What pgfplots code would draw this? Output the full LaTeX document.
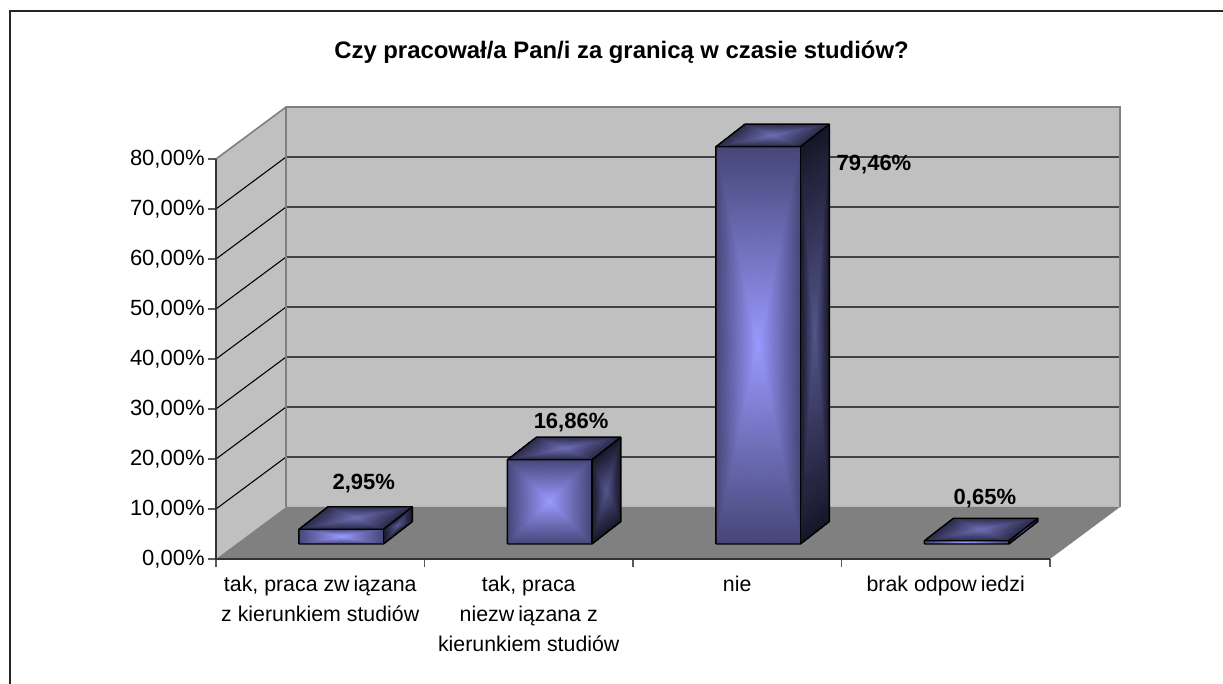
\documentclass[border=0pt]{standalone}
\usepackage{fontspec}
\setmainfont{Liberation Sans}
\usepackage{pgfplots}
\pgfplotsset{compat=1.18}
\definecolor{wall}{RGB}{192,192,192}
\definecolor{flr}{RGB}{128,128,128}
\definecolor{fc}{RGB}{153,153,255}
\definecolor{fe}{RGB}{70,70,120}
\definecolor{tc}{RGB}{108,108,180}
\definecolor{te}{RGB}{42,42,72}
\definecolor{sc}{RGB}{84,84,140}
\definecolor{se}{RGB}{22,22,40}
\newcommand{\barbox}[3]{% x0, x1, value: drawn on the floor plane 3 units above the front edge
  \pgfmathsetmacro{\xa}{#1}\pgfmathsetmacro{\xb}{#2}
  \pgfmathsetmacro{\ya}{3}\pgfmathsetmacro{\yb}{3+#3}
  \pgfmathsetmacro{\xc}{\xa+0.139}\pgfmathsetmacro{\xd}{\xb+0.139}
  \pgfmathsetmacro{\yc}{\ya+4.5}\pgfmathsetmacro{\yd}{\yb+4.5}
  \pgfmathsetmacro{\xm}{(\xa+\xb)/2}\pgfmathsetmacro{\ym}{(\ya+\yb)/2}
  \pgfmathsetmacro{\xt}{(\xa+\xd)/2}\pgfmathsetmacro{\yt}{(\yb+\yd)/2}
  \pgfmathsetmacro{\xs}{(\xb+\xd)/2}\pgfmathsetmacro{\ys}{(\ya+\yd)/2}
  \edef\temp{\noexpand\addplot[patch,shader=interp,mesh/color input=explicit] coordinates {
    (\xa,\ya)[color=fe] (\xb,\ya)[color=fe] (\xm,\ym)[color=fc]
    (\xb,\ya)[color=fe] (\xb,\yb)[color=fe] (\xm,\ym)[color=fc]
    (\xb,\yb)[color=fe] (\xa,\yb)[color=fe] (\xm,\ym)[color=fc]
    (\xa,\yb)[color=fe] (\xa,\ya)[color=fe] (\xm,\ym)[color=fc]
    (\xa,\yb)[color=te] (\xb,\yb)[color=te] (\xt,\yt)[color=tc]
    (\xb,\yb)[color=te] (\xd,\yd)[color=te] (\xt,\yt)[color=tc]
    (\xd,\yd)[color=te] (\xc,\yd)[color=te] (\xt,\yt)[color=tc]
    (\xc,\yd)[color=te] (\xa,\yb)[color=te] (\xt,\yt)[color=tc]
    (\xb,\ya)[color=se] (\xd,\yc)[color=se] (\xs,\ys)[color=sc]
    (\xd,\yc)[color=se] (\xd,\yd)[color=se] (\xs,\ys)[color=sc]
    (\xd,\yd)[color=se] (\xb,\yb)[color=se] (\xs,\ys)[color=sc]
    (\xb,\yb)[color=se] (\xb,\ya)[color=se] (\xs,\ys)[color=sc]
  };
  \noexpand\addplot[black,line width=1.1pt,line join=round] coordinates {
    (\xa,\ya) (\xb,\ya) (\xd,\yc) (\xd,\yd) (\xc,\yd) (\xa,\yb) (\xa,\ya)};
  \noexpand\addplot[black,line width=1.1pt,line join=round] coordinates {
    (\xa,\yb) (\xb,\yb) (\xd,\yd)};
  \noexpand\addplot[black,line width=1.1pt] coordinates {(\xb,\yb) (\xb,\ya)};}
  \temp
}
\begin{document}
\begin{tikzpicture}[x=0.75pt,y=0.75pt]
\useasboundingbox (0,0) rectangle (1223,684);
\draw[black!85,line width=1.1pt] (10,0) -- (10,673) -- (1223,673);
\node[font=\fontsize{17.9pt}{21pt}\selectfont\bfseries,anchor=center] at (621.5,632) {Czy pracował/a Pan/i za granicą w czasie studiów?};
\begin{axis}[
  at={(162pt,93.75pt)},anchor=south west,
  scale only axis,width=678pt,height=339pt,
  xmin=0,xmax=4.336,ymin=0,ymax=90.4,
  clip=false,
  axis line style={draw=none},
  axis x line*=bottom,axis y line*=left,
  xtick={0,1,2,3,4},xticklabels={},
  extra x ticks={0.5,1.5,2.5,3.5},
  extra x tick labels={{tak, praca zw\kern3pt iązana\\z kierunkiem studiów},{tak, praca\\niezw\kern3pt iązana z\\kierunkiem studiów},{nie},{brak odpow\kern3pt iedzi}},
  extra x tick style={major tick length=0pt,tick label style={font=\fontsize{16pt}{22.5pt}\selectfont,align=center,anchor=north,yshift=-9pt}},
  ytick={0,10,20,30,40,50,60,70,80},
  yticklabels={{0,00\%},{10,00\%},{20,00\%},{30,00\%},{40,00\%},{50,00\%},{60,00\%},{70,00\%},{80,00\%}},
  yticklabel style={font=\fontsize{16.5pt}{19pt}\selectfont,xshift=1pt},
  tick align=outside,major tick length=6pt,
  tick style={black!65,line width=0.8pt},
]
% walls and floor
\addplot[fill=wall,draw=none] coordinates {(0,0) (0.336,10.4) (4.336,10.4) (4.336,90.4) (0.336,90.4) (0,80) (0,0)};
\addplot[fill=flr,draw=none] coordinates {(0,0) (4,0) (4.336,10.4) (0.336,10.4) (0,0)};
% gridlines
\addplot[black,line width=0.8pt] coordinates {(0,10) (0.336,20.4) (4.336,20.4)};
\addplot[black,line width=0.8pt] coordinates {(0,20) (0.336,30.4) (4.336,30.4)};
\addplot[black,line width=0.8pt] coordinates {(0,30) (0.336,40.4) (4.336,40.4)};
\addplot[black,line width=0.8pt] coordinates {(0,40) (0.336,50.4) (4.336,50.4)};
\addplot[black,line width=0.8pt] coordinates {(0,50) (0.336,60.4) (4.336,60.4)};
\addplot[black,line width=0.8pt] coordinates {(0,60) (0.336,70.4) (4.336,70.4)};
\addplot[black,line width=0.8pt] coordinates {(0,70) (0.336,80.4) (4.336,80.4)};
% wall outline
\addplot[flr,line width=1.2pt] coordinates {(0,80) (0.336,90.4) (4.336,90.4) (4.336,10.4)};
\addplot[flr,line width=1.2pt] coordinates {(0.336,10.4) (0.336,90.4)};
% front axis lines
\addplot[black!80,line width=1.1pt] coordinates {(0,80) (0,0) (4,0)};
% bars
\barbox{0.398}{0.803}{2.95}
\barbox{1.398}{1.803}{16.86}
\barbox{2.398}{2.803}{79.46}
\barbox{3.398}{3.803}{0.65}
% data labels
\addplot[draw=none,point meta=explicit symbolic,
  nodes near coords,nodes near coords align={anchor=center},
  every node near coord/.append style={font=\fontsize{16.5pt}{19pt}\selectfont\bfseries,anchor=center}]
  coordinates {(0.709,15)[2,95\%] (1.703,27.2)[16,86\%] (3.156,78.8)[79,46\%] (3.688,12)[0,65\%]};
\end{axis}
\end{tikzpicture}
\end{document}
